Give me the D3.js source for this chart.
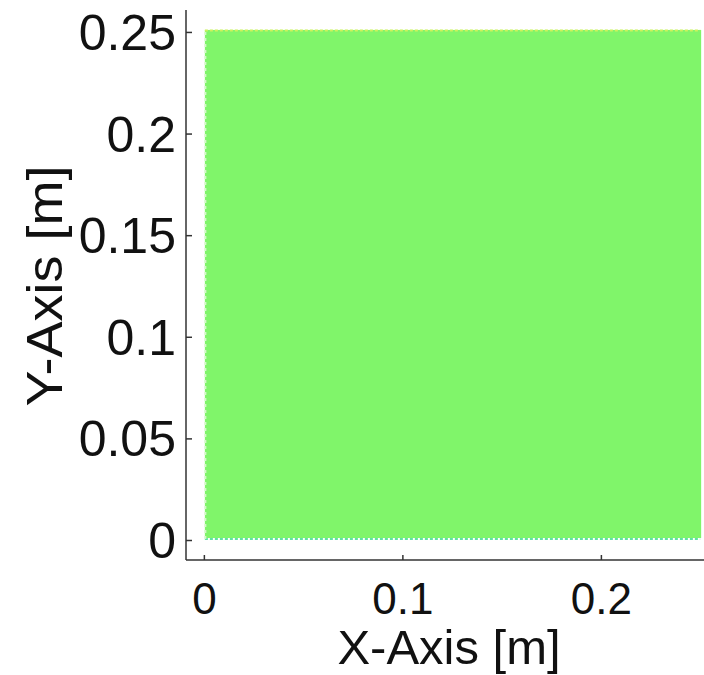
<!DOCTYPE html>
<html>
<head>
<meta charset="utf-8">
<script src="https://cdn.jsdelivr.net/npm/d3@7"></script>
<style>
  body { margin: 0; background: #fff; }
  svg { display: block; font-family: "Liberation Sans", Arial, sans-serif; }
</style>
</head>
<body>
<svg id="svg" width="704" height="675"></svg>
<script>
// field region (x and y extent in metres), value is constant over it
var fieldX = [0, 0.25];
var fieldY = [0, 0.25];
var xTicks = [0, 0.1, 0.2];
var yTicks = [0, 0.05, 0.1, 0.15, 0.2, 0.25];
var xLabel = "X-Axis [m]";
var yLabel = "Y-Axis [m]";

var svg = d3.select("#svg");

var x = d3.scaleLinear().domain([-0.009, 0.26]).range([186, 720]);
var y = d3.scaleLinear().domain([-0.00984, 0.2608]).range([560, 10]);

// the field
let g = svg.append("g").classed("core", true);
g.append("rect")
  .attr("x", x(fieldX[0]) + 1)
  .attr("y", y(fieldY[1]) - 2)
  .attr("width", x(fieldX[1]) - x(fieldX[0]))
  .attr("height", y(fieldY[0]) - y(fieldY[1]))
  .attr("fill", "#80f56a");
// speckled edges
g.append("line")
  .attr("x1", x(fieldX[0]) + 1).attr("x2", x(fieldX[1]))
  .attr("y1", y(fieldY[1]) - 1.5).attr("y2", y(fieldY[1]) - 1.5)
  .attr("stroke", "#cdf25c").attr("stroke-width", 2)
  .attr("stroke-dasharray", "3,2");
g.append("line")
  .attr("x1", x(fieldX[0]) + 1).attr("x2", x(fieldX[1]))
  .attr("y1", y(fieldY[0]) - 1).attr("y2", y(fieldY[0]) - 1)
  .attr("stroke", "#5fe2a6").attr("stroke-width", 2)
  .attr("stroke-dasharray", "3,2");
g.append("line")
  .attr("x1", x(fieldX[0]) + 1.5).attr("x2", x(fieldX[0]) + 1.5)
  .attr("y1", y(fieldY[1])).attr("y2", y(fieldY[0]))
  .attr("stroke", "#d4f8c8").attr("stroke-width", 2)
  .attr("stroke-dasharray", "3,3");

// axes
let xAxis = svg.append("g")
  .attr("transform", "translate(0,560)")
  .call(d3.axisTop(x).tickValues(xTicks).tickSize(5).tickFormat(d3.format("")));
xAxis.select(".domain").attr("d", "M186,0H704");
xAxis.selectAll(".tick text")
  .attr("y", 54)
  .attr("font-size", 44)
  .attr("fill", "#111");

let yAxis = svg.append("g")
  .attr("transform", "translate(186,0)")
  .call(d3.axisRight(y).tickValues(yTicks).tickSize(6).tickFormat(d3.format("")));
yAxis.select(".domain").attr("d", "M0,10V560");
yAxis.selectAll(".tick text")
  .attr("x", -10)
  .attr("dy", "0.35em")
  .attr("text-anchor", "end")
  .attr("font-size", 50)
  .attr("fill", "#111");

svg.selectAll(".domain, .tick line").attr("stroke", "#333").attr("stroke-width", 1.5);

svg.append("text")
  .attr("x", 449).attr("y", 664)
  .attr("text-anchor", "middle")
  .attr("font-size", 49)
  .attr("fill", "#111")
  .text(xLabel);

svg.append("text")
  .attr("transform", "translate(62,286) rotate(-90) scale(1.08,1)")
  .attr("text-anchor", "middle")
  .attr("font-size", 50)
  .attr("fill", "#111")
  .text(yLabel);
</script>
</body>
</html>
